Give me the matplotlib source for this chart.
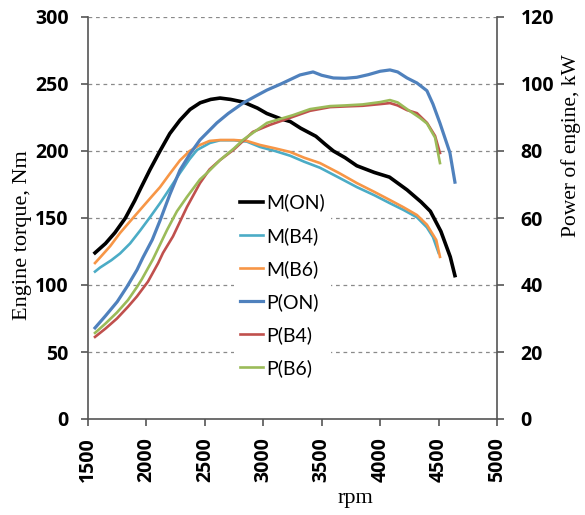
import matplotlib
matplotlib.use("Agg")
import matplotlib.pyplot as plt

# torque curves, Nm
rpm_m_on = [1560, 1650, 1730, 1820, 1900, 1950, 2030, 2116, 2200, 2287, 2373, 2460, 2550, 2630,
            2720, 2830, 2950, 3030, 3150, 3230, 3320, 3450, 3530, 3600, 3700, 3800, 3950, 4080,
            4230, 4350, 4430, 4520, 4600, 4640]
m_on = [124, 131, 139, 150, 163, 172, 186, 200, 213, 223, 231, 236, 238.5, 239.5,
        238.5, 236.5, 232, 228, 224, 222, 217, 211, 205, 200, 195, 189, 184, 180.5,
        171, 162, 155, 140, 121, 107]

rpm_m_b4 = [1560, 1603, 1700, 1774, 1860, 1945, 2030, 2116, 2200, 2287, 2370, 2432, 2543, 2630,
            2750, 2860, 2972, 3100, 3229, 3350, 3485, 3650, 3802, 3950, 4084, 4200, 4315, 4400,
            4452, 4500]
m_b4 = [110, 113, 118.5, 123.5, 131, 140.5, 150.5, 161, 172, 183.6, 194, 200.7, 206, 208,
        208, 207, 203, 200, 196.5, 192, 187.5, 180, 173, 167, 161, 156, 150.5, 143,
        135.8, 124]

rpm_m_b6 = [1560, 1603, 1690, 1774, 1860, 1945, 2030, 2116, 2200, 2287, 2370, 2458, 2540, 2630,
            2750, 2860, 2972, 3100, 3229, 3350, 3485, 3650, 3802, 3950, 4084, 4200, 4315, 4400,
            4480, 4512]
m_b6 = [116.4, 120.5, 129, 138.8, 147.5, 156, 164.5, 173, 183, 193, 200, 204.5, 207.5, 208.2,
        208.2, 207.5, 204.5, 202, 199.3, 195, 191, 183.5, 176, 169.5, 163.4, 158, 152.2, 145,
        133.6, 121]

# power curves, kW
rpm_p_on = [1560, 1650, 1750, 1834, 1919, 1970, 2050, 2116, 2200, 2287, 2370, 2458, 2603, 2700,
            2826, 2930, 3032, 3150, 3314, 3426, 3500, 3600, 3700, 3800, 3900, 4000, 4084, 4150,
            4230, 4315, 4400, 4452, 4512, 4597, 4640]
p_on = [27.2, 30.8, 35, 39.5, 44.5, 48.2, 53.5, 59.2, 67, 74.3, 79, 83.3, 88.4, 91.2,
        94.3, 96.3, 98.2, 100, 102.7, 103.6, 102.6, 101.8, 101.7, 102, 102.8, 103.8, 104.2, 103.6,
        101.8, 100.3, 98, 94, 88.3, 79.5, 70.7]

rpm_p_b4 = [1560, 1650, 1748, 1842, 1919, 2013, 2100, 2142, 2227, 2347, 2458, 2540, 2630, 2750,
            2911, 3057, 3229, 3400, 3571, 3700, 3850, 4000, 4084, 4150, 4230, 4315, 4401, 4470,
            4512]
p_b4 = [24.5, 27, 30, 33.5, 36.6, 41, 46.5, 49.6, 54.5, 63.3, 70.4, 74.5, 77.3, 80.5,
        85.7, 87.8, 89.9, 92, 93.1, 93.3, 93.5, 94, 94.3, 93.6, 92.2, 91.3, 88.4, 84.5,
        79.4]

rpm_p_b6 = [1560, 1650, 1748, 1842, 1919, 1962, 2005, 2056, 2176, 2261, 2347, 2458, 2518, 2630,
            2750, 2826, 3032, 3254, 3400, 3571, 3700, 3850, 4000, 4084, 4150, 4230, 4340, 4401,
            4470, 4512]
p_b6 = [25.7, 28.5, 31.8, 35.5, 39.4, 41.8, 44.5, 47.7, 56.4, 62, 66.3, 71.5, 73.4, 77.3,
        80.8, 83.3, 88.4, 90.7, 92.5, 93.4, 93.6, 93.9, 94.6, 95.2, 94.5, 92.5, 89.9, 88.2,
        84, 76.4]

xticks = [1500, 2000, 2500, 3000, 3500, 4000, 4500, 5000]
yticks_left = [0, 50, 100, 150, 200, 250, 300]
yticks_right = [0, 20, 40, 60, 80, 100, 120]

fig = plt.figure(figsize=(5.85, 5.15), dpi=100)
ax = fig.add_axes([88 / 585, 96 / 515, 409 / 585, 402 / 515])
ax2 = ax.twinx()

tick_font = {"family": "Open Sans", "weight": "bold", "size": 14}
label_font = {"family": "Liberation Serif", "size": 16}

l1, = ax.plot(rpm_m_on, m_on, color="black", lw=2.6, label="M(ON)")
l2, = ax.plot(rpm_m_b4, m_b4, color="#4bacc6", lw=1.9, label="M(B4)")
l3, = ax.plot(rpm_m_b6, m_b6, color="#f79646", lw=1.9, label="M(B6)")
l4, = ax2.plot(rpm_p_on, p_on, color="#4f81bd", lw=2.3, label="P(ON)")
l5, = ax2.plot(rpm_p_b4, p_b4, color="#c0504d", lw=1.9, label="P(B4)")
l6, = ax2.plot(rpm_p_b6, p_b6, color="#9bbb59", lw=1.9, label="P(B6)")

ax.set_xlim(1500, 5000)
ax.set_ylim(0, 300)
ax2.set_ylim(0, 120)
ax.set_xticks(xticks)
ax.set_yticks(yticks_left)
ax2.set_yticks(yticks_right)

for y in yticks_left[1:]:
    ax.axhline(y, color="#8a8a8a", lw=0.9, ls=(0, (3, 3)), zorder=0)

for a in (ax, ax2):
    a.spines["top"].set_visible(False)
    a.patch.set_visible(False)
ax.spines["right"].set_visible(False)
ax2.spines["left"].set_visible(False)
ax2.spines["bottom"].set_visible(False)
for s in ("left", "bottom"):
    ax.spines[s].set_color("#555555")
    ax.spines[s].set_linewidth(1.2)
ax2.spines["right"].set_color("#555555")
ax2.spines["right"].set_linewidth(1.2)

ax.tick_params(axis="both", direction="out", length=5, width=1.2, color="#555555")
ax.tick_params(axis="y", pad=9)
ax.tick_params(axis="x", pad=8)
ax2.tick_params(axis="y", direction="out", length=5, width=1.2, color="#555555", pad=12)

ax.set_xticklabels([str(v) for v in xticks], rotation=90, fontdict=tick_font)
ax.set_yticklabels([str(v) for v in yticks_left], fontdict=tick_font)
ax2.set_yticklabels([str(v) for v in yticks_right], fontdict=tick_font)

ax.set_xlabel("rpm", fontdict=label_font)
ax.xaxis.set_label_coords(0.655, -0.175)
ax.set_ylabel("Engine torque, Nm", fontdict=label_font)
ax.yaxis.set_label_coords(-0.136, 0.458)
ax2.set_ylabel("Power of engine, kW", family="Liberation Serif", size=15.5, rotation=90)
ax2.yaxis.set_label_coords(1.157, 0.68)

leg = ax2.legend(handles=[l1, l2, l3, l4, l5, l6], loc="upper left",
                 bbox_to_anchor=(0.357, 0.575), prop={"family": "Lato", "size": 14},
                 handlelength=1.2, handletextpad=0.15, labelspacing=0.78,
                 frameon=True, fancybox=False, borderpad=0.3, borderaxespad=0)
leg.get_frame().set_facecolor("white")
leg.get_frame().set_edgecolor("none")
leg.get_frame().set_alpha(1)

fig.savefig("out.png", dpi=100)
